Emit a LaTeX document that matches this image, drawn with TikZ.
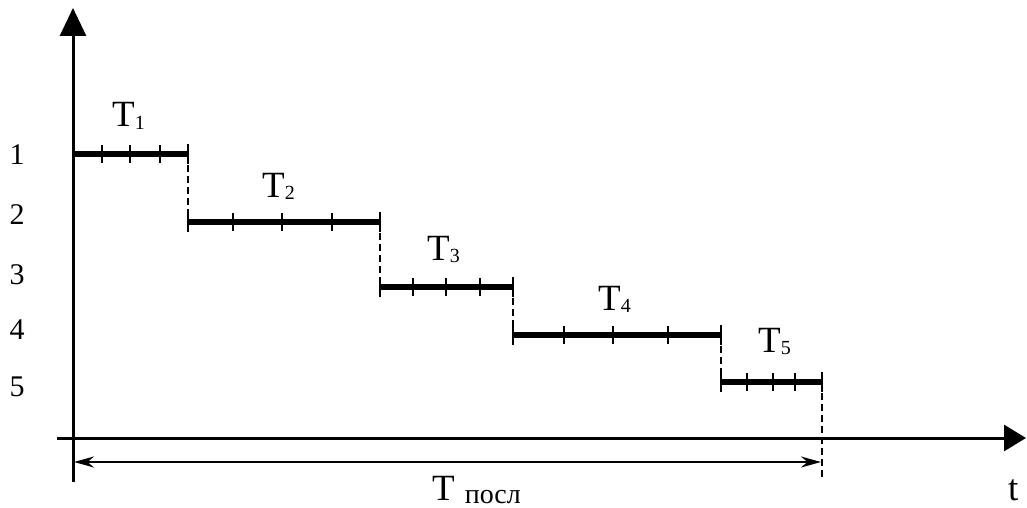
\documentclass[tikz,border=0pt]{standalone}
\usepackage{fontspec}
\setmainfont{Liberation Serif}
\usetikzlibrary{arrows.meta}

% T with a slightly lowered, smaller index
\newcommand\Tidx[1]{T\raisebox{-2pt}{\fontsize{20}{22}\selectfont #1}}

\begin{document}
\begin{tikzpicture}[x=1pt,y=-1pt,
  axis/.style={line width=3pt},
  stepline/.style={line width=6pt},
  tickmark/.style={line width=2.5pt},
  capmark/.style={line width=2.5pt},
  drop/.style={line width=2.5pt, dash pattern=on 7pt off 4pt},
  span/.style={line width=2.2pt, {Stealth[length=20pt,width=11pt]}-{Stealth[length=20pt,width=11pt]}},
  lbl/.style={font=\fontsize{37}{42}\selectfont, inner sep=0pt, anchor=base west},
  lvl/.style={font=\fontsize{30}{36}\selectfont, inner sep=0pt}]
\useasboundingbox (0,0) rectangle (1027,508);

% axes
\coordinate (ybot) at (73,482);
\coordinate (ytop) at (73,8);
\coordinate (xleft) at (57,438);
\coordinate (xright) at (1026,438);
\draw[axis, -{Triangle[length=28pt,width=26pt]}] (ybot) -- (ytop);
\draw[axis, -{Triangle[length=22pt,width=26pt]}] (xleft) -- (xright);

% level numbers
\foreach \n/\y in {1/155, 2/215, 3/275, 4/330, 5/387}
  \node[lvl] (lv\n) at (17,\y) {\n};

% steps: index / start / end / level / inner ticks
\foreach \i/\xa/\xb/\y/\ticks in {
    1/73/188/154/{102,130,160},
    2/188/380/222/{233,282,332},
    3/380/513/287/{413,446,480},
    4/513/721/335/{564,613,668},
    5/721/822/382/{747,773,795}} {
  \coordinate (s\i a) at (\xa,\y);
  \coordinate (s\i b) at (\xb,\y);
  \draw[stepline] (s\i a) -- (s\i b);
  \foreach \t in \ticks
    \draw[tickmark] (\t,\y-9) -- (\t,\y+9);
  \draw[capmark] ([yshift=-10pt]s\i a) -- ([yshift=10pt]s\i a);
  \draw[capmark] ([yshift=-10pt]s\i b) -- ([yshift=10pt]s\i b);
}

% dashed transitions between levels
\coordinate (fin) at (822,478);
\draw[drop] (s1b) -- (s2a);
\draw[drop] (s2b) -- (s3a);
\draw[drop] (s3b) -- (s4a);
\draw[drop] (s4b) -- (s5a);
\draw[drop] (s5b) -- (fin);

% total duration
\coordinate (dimL) at (74,462);
\coordinate (dimR) at (821,462);
\draw[span] (dimL) -- (dimR);

% stage labels
\node[lbl] (t1) at (112,127) {\Tidx{1}};
\node[lbl] (t2) at (262,197) {\Tidx{2}};
\node[lbl] (t3) at (427,260) {\Tidx{3}};
\node[lbl] (t4) at (598,310) {\Tidx{4}};
\node[lbl] (t5) at (758,352) {\Tidx{5}};
\node[lbl] (tp) at (432,500) {T\hspace{10pt}\raisebox{-3pt}{\fontsize{28}{30}\selectfont посл}};
\node[lbl] (tt) at (1008,500) {t};
\end{tikzpicture}
\end{document}
